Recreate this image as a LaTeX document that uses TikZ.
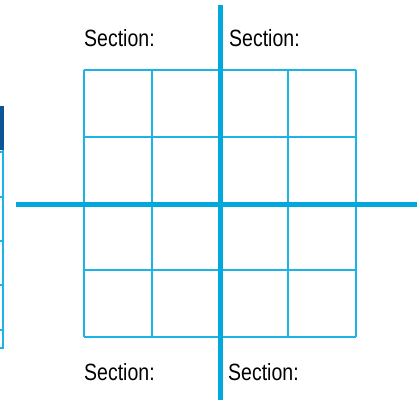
\documentclass[tikz,border=0pt]{standalone}
\usepackage{fontspec}
\setmainfont[FakeStretch=0.83]{Liberation Sans}
\usepackage{tikz}
\usetikzlibrary{positioning}
\definecolor{axisblue}{HTML}{00A8DC}
\definecolor{gridblue}{HTML}{1CB4E6}
\definecolor{headblue}{HTML}{0B5597}

\begin{document}
\begin{tikzpicture}[
    x=1pt, y=1pt,
    axis/.style={draw=axisblue, line width=5pt},
    cell/.style={draw=gridblue, line width=2pt},
    panel/.style={draw=gridblue, line width=1.6pt},
    label/.style={anchor=base west, inner sep=0pt, font=\fontsize{23.5}{26}\selectfont}
]
\useasboundingbox (0,0) rectangle (417,400);
% partial panel on the left
\fill[headblue] (-5,250) rectangle (3.5,294);
\draw[panel] (-5,52) -- (3,52) -- (3,250);
\foreach \y in {248,203,159,115,70}
  \draw[panel] (-5,\y) -- (3,\y);
% grid
\foreach \x in {84,152,220,288,356}
  \draw[cell] (\x,63) -- (\x,330);
\foreach \y in {63,130,196,263,330}
  \draw[cell] (84,\y) -- (356,\y);
% axes
\coordinate (vtop) at (220.5,395);
\coordinate (vbot) at (220.5,0);
\coordinate (hleft) at (16,196);
\coordinate (hright) at (417,196);
\draw[axis] (vtop) -- (vbot);
\draw[axis] (hleft) -- (hright);
% labels
\node[label] (tl) at (84,353) {Section:};
\node[label] (tr) at (229,353) {Section:};
\node[label] (bl) at (84,20) {Section:};
\node[label] (br) at (228,20) {Section:};
\end{tikzpicture}
\end{document}
